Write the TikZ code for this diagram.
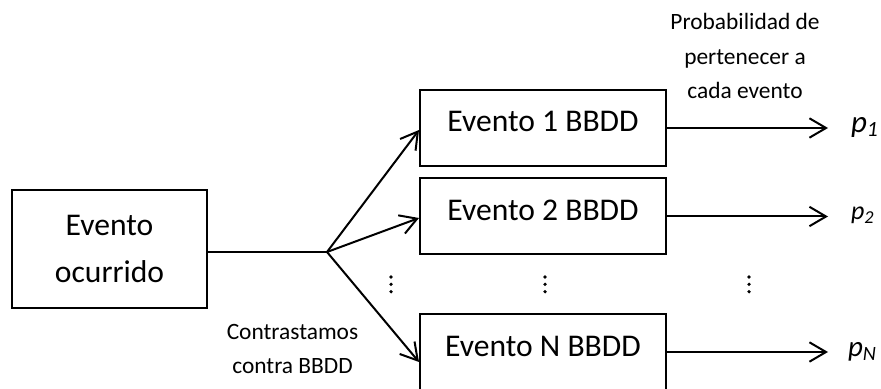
\documentclass[tikz,border=0pt]{standalone}
\usepackage{fontspec}
\setmainfont{Carlito}
\usetikzlibrary{arrows.meta}
\begin{document}
\begin{tikzpicture}[x=0.5pt,y=-0.5pt,line width=1pt,
  arr/.style={-{Straight Barb[length=8.3pt,width=9.7pt]}},
  box/.style={draw,line width=1pt,minimum width=123pt,minimum height=38pt,inner sep=0pt,
    font=\fontsize{15.8}{19}\selectfont,text height=12pt,text depth=8pt},
  note/.style={align=center,inner sep=0pt,font=\fontsize{11.7}{17.3}\selectfont},
  plabel/.style={anchor=base west,inner sep=0pt}]
\useasboundingbox (0,0) rectangle (881,389);

% source event and the three event databases
\node[draw,line width=1pt,minimum width=97.5pt,minimum height=59pt,inner sep=0pt,
  align=center,font=\fontsize{15.8}{23.5}\selectfont] (eo) at (109.5,249) {Evento\\ocurrido};
\node[box] (b1) at (543,128) {Evento 1 BBDD};
\node[box] (b2) at (543,216.5) {Evento 2 BBDD};
\node[box] (bN) at (543,352) {Evento N BBDD};

% labels
\node[note] (prob) at (745,56) {Probabilidad de\\pertenecer a\\cada evento};
\node[note] (cont) at (292.5,349) {Contrastamos\\contra BBDD};

% branching point and arrow ends
\coordinate (br) at (327,252);
\coordinate (t1) at ([yshift=-1pt]b1.west);
\coordinate (t2) at ([yshift=-0.75pt]b2.west);
\coordinate (tN) at ([yshift=-5pt]bN.west);
\coordinate (e1) at (828,128);
\coordinate (e2) at (828,216.5);
\coordinate (eN) at (828,352);

\draw (eo.east |- br) -- (br);
\draw[arr] (br) -- (t1);
\draw[arr] (br) -- (t2);
\draw[arr] (br) -- (tN);
\draw[arr] (b1.east) -- (e1);
\draw[arr] (b2.east) -- (e2);
\draw[arr] (bN.east) -- (eN);

% probabilities
\node[plabel,font=\fontsize{15.5}{18}\selectfont\itshape] (p1) at (850,132.5) {p\textsubscript{1}};
\node[plabel,font=\fontsize{13}{16}\selectfont\itshape] (p2) at (850,219.5) {p\textsubscript{2}};
\node[plabel,font=\fontsize{14.5}{17}\selectfont\itshape] (pN) at (847,356) {p\textsubscript{N}};

% vertical ellipses
\foreach \x in {391,545,749}
  \foreach \y in {277,284.3,291.7}
    \fill (\x,\y) circle (0.9pt);
\end{tikzpicture}
\end{document}
